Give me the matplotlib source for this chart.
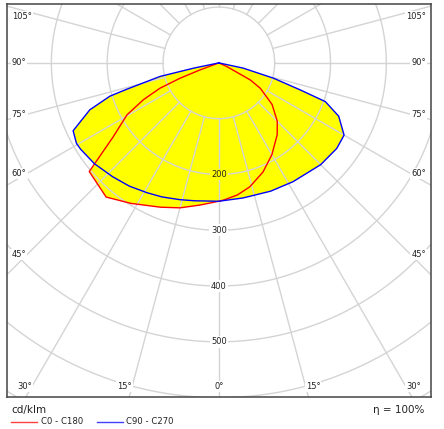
import numpy as np
import matplotlib
matplotlib.use("Agg")
import matplotlib.pyplot as plt
from matplotlib.lines import Line2D

# Curvas fotométricas (gamma en grados desde el nadir, intensidad en cd/klm)
gam_c180 = [0, 7.5, 15, 22, 32, 40, 50, 55, 60.5, 64, 66.7, 68.4, 69.5, 72]
int_c180 = [248, 257, 269, 279, 297, 314, 303, 231, 189, 150, 115, 75, 36, 0]

gam_c0 = [0, 2, 8, 14, 22, 30, 39, 45, 52, 58.5, 61.5, 65, 67]
int_c0 = [248, 246, 239, 229, 211, 190, 166, 148, 121, 87, 64, 16, 0]

gam_c270 = [0, 10, 16, 23, 29, 36, 43, 51, 58, 60.5, 65, 70, 73, 74, 77, 78.2, 80]
int_c270 = [248, 251, 255, 261, 266, 273, 279, 287, 292, 293, 288, 246, 204, 172, 108, 46, 0]

gam_c90 = [0, 10, 22, 32, 45, 54, 60, 66, 70, 71.6, 74.3, 77.8, 80]
int_c90 = [248, 246, 248, 251, 258, 261, 259, 235, 203, 154, 102, 45, 0]

anillos = [100, 200, 300, 400, 500, 600, 700, 800]
anillos_etiqueta = [200, 300, 400, 500]
angulos_lado = [105, 90, 75, 60, 45]
angulos_abajo = [30, 15, 0, 15, 30]
lado_abajo = [-1, -1, 0, 1, 1]

eta = "100%"
unidad = "cd/klm"
leyenda = ["C0 - C180", "C90 - C270"]

W, H = 444, 429
fig = plt.figure(figsize=(W / 100, H / 100), dpi=100)
fig.patch.set_facecolor("white")

# caja del diagrama en pixeles
px_l, px_r, px_t, px_b = 6.7, 431.0, 4.3, 396.5
ax = fig.add_axes([px_l / W, 1 - px_b / H, (px_r - px_l) / W, (px_b - px_t) / H])
xmin, xmax, ymin, ymax = -380, 380, -598, 105
ax.set_xlim(xmin, xmax)
ax.set_ylim(ymin, ymax)
ax.set_xticks([])
ax.set_yticks([])
for s in ax.spines.values():
    s.set_color("#444444")
    s.set_linewidth(1.1)

esc = (px_r - px_l) / (xmax - xmin)  # px por cd/klm


def xy(gam, inten, lado):
    g = np.radians(np.array(gam, dtype=float))
    i = np.array(inten, dtype=float)
    return lado * i * np.sin(g), -i * np.cos(g)


xl, yl = xy(gam_c180, int_c180, -1)
xr, yr = xy(gam_c0, int_c0, 1)
rojo_x = np.concatenate([xl[::-1], xr])
rojo_y = np.concatenate([yl[::-1], yr])

xl, yl = xy(gam_c270, int_c270, -1)
xr, yr = xy(gam_c90, int_c90, 1)
azul_x = np.concatenate([xl[::-1], xr])
azul_y = np.concatenate([yl[::-1], yr])

# relleno amarillo (union de las dos curvas)
ax.fill(rojo_x, rojo_y, color="#ffff00", lw=0, zorder=1)
ax.fill(azul_x, azul_y, color="#ffff00", lw=0, zorder=1)

# rejilla polar
gris = "#d4d4d4"
t = np.linspace(0, 2 * np.pi, 400)
for r in anillos:
    ax.plot(r * np.cos(t), r * np.sin(t), color=gris, lw=1.0, zorder=2)
for a in range(0, 360, 15):
    g = np.radians(a)
    ax.plot([100 * np.sin(g), 1200 * np.sin(g)], [-100 * np.cos(g), -1200 * np.cos(g)],
            color=gris, lw=1.0, zorder=2)

ax.plot(rojo_x, rojo_y, color="#ff0000", lw=1.0, zorder=3)
ax.plot(azul_x, azul_y, color="#0000ff", lw=1.0, zorder=3)

# etiquetas de los anillos
for r in anillos_etiqueta:
    fondo = "#ffff00" if r < int_c0[0] else "white"
    ax.text(0, -r, str(r), ha="center", va="center", fontsize=6, color="#222222", zorder=4,
            bbox=dict(facecolor=fondo, edgecolor="none", pad=1.0))

# etiquetas de angulos a los lados
dx_in = 20 / esc
for a in angulos_lado:
    g = np.radians(a)
    xs = xmax - dx_in
    ys = -xs / np.sin(g) * np.cos(g)
    ys = min(ys, ymax - 22)
    for lado in (-1, 1):
        ax.text(lado * (xmax - 5 / esc), ys, f"{a}°", ha="left" if lado < 0 else "right",
                va="center", fontsize=6, color="#222222", zorder=4,
                bbox=dict(facecolor="white", edgecolor="none", pad=0.8))

# etiquetas de angulos abajo
yb = ymin + 10 / esc
for a, lado in zip(angulos_abajo, lado_abajo):
    g = np.radians(a)
    xb = lado * (-yb) * np.tan(g)
    ha = {-1: "right", 0: "center", 1: "left"}[lado]
    ax.text(xb, yb, f"{a}°", ha=ha, va="center", fontsize=6, color="#222222", zorder=4,
            bbox=dict(facecolor="white", edgecolor="none", pad=0.8))

# textos inferiores
fig.text(11.7 / W, 1 - 410 / H, unidad, ha="left", va="center", fontsize=7.5, color="#222222")
fig.text(424 / W, 1 - 410 / H, "η = " + eta, ha="right", va="center", fontsize=7.5, color="#222222")

yy = 1 - 421.5 / H
fig.add_artist(Line2D([11 / W, 37 / W], [yy, yy], color="#ff4040", lw=1.0))
fig.text(40.7 / W, yy, leyenda[0], ha="left", va="center", fontsize=6.1, color="#222222")
fig.add_artist(Line2D([96.7 / W, 123 / W], [yy, yy], color="#4040ff", lw=1.0))
fig.text(126 / W, yy, leyenda[1], ha="left", va="center", fontsize=6.1, color="#222222")

fig.savefig("out.png", dpi=100)
